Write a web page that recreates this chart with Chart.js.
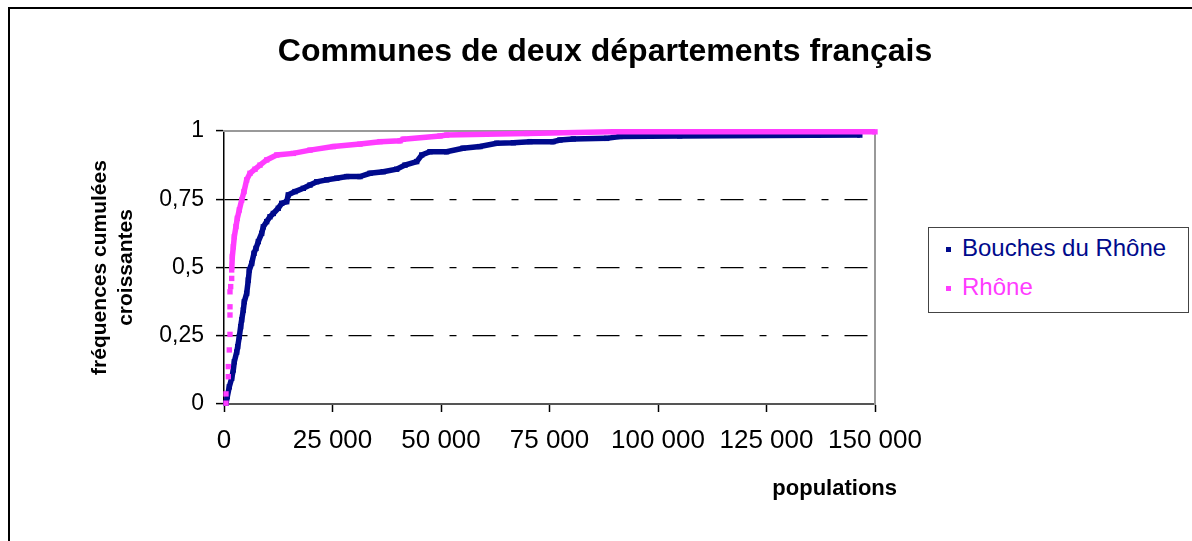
<!DOCTYPE html>
<html>
<head>
<meta charset="utf-8">
<script src="https://cdn.jsdelivr.net/npm/chart.js@4/dist/chart.umd.min.js"></script>
<style>
body { margin: 0; background: #fff; }
#wrap { position: relative; width: 1192px; height: 541px; overflow: hidden; }
#frame { position: absolute; left: 8px; top: 7px; width: 1300px; height: 700px; border-left: 2px solid #000; border-top: 2px solid #000; }
#chart-area { position: absolute; left: 0; top: 0; }
#legend { position: absolute; left: 928px; top: 227px; width: 259px; height: 84px; border: 1px solid #444; font-family: "Liberation Sans", Arial, sans-serif; font-size: 24px; background: #fff; }
#legend .item { position: absolute; left: 0; white-space: nowrap; }
#legend .mark { position: absolute; left: 17px; width: 5px; height: 5px; }
#legend .txt { position: absolute; left: 33px; }
</style>
</head>
<body>
<div id="wrap">
  <div id="frame"></div>
  <canvas id="chart-area" width="1192" height="541"></canvas>
  <div id="legend"></div>
</div>
<script>
// communes des Bouches du Rhône : population / fréquence cumulée
var bdrPop  = [460, 760, 1220, 1770, 2150, 2380, 2920, 3150, 3530, 3840, 4070, 4450, 4680, 5220, 5600, 5840, 6380, 6910, 7370, 7910,
               8680, 9060, 9830, 10600, 11360, 12510, 13290, 14440, 14820, 16360, 18280, 19810, 21360, 23660, 25970, 28270, 31330, 33640, 36700, 39790,
               41700, 44400, 45550, 47460, 51300, 55070, 58980, 62830, 66660, 70500, 75800, 77400, 80480, 88170, 91240, 105000, 146500];
var bdrFreq = [0.003, 0.027, 0.063, 0.094, 0.125, 0.155, 0.19, 0.21, 0.247, 0.283, 0.308, 0.344, 0.375, 0.405, 0.454, 0.491, 0.515, 0.552, 0.570, 0.595,
               0.625, 0.649, 0.668, 0.686, 0.698, 0.717, 0.735, 0.741, 0.766, 0.778, 0.790, 0.802, 0.814, 0.821, 0.827, 0.833, 0.833, 0.845, 0.851, 0.860,
               0.875, 0.888, 0.912, 0.924, 0.924, 0.937, 0.943, 0.955, 0.957, 0.961, 0.961, 0.967, 0.971, 0.973, 0.980, 0.982, 0.985];

// communes du Rhône
var rhonePop  = [460, 460, 1000, 1000, 1220, 1380, 1380, 1380, 1380, 1540, 1770, 1770, 1920, 2150, 2380, 2760, 3070, 3530, 4070, 4610,
                 5220, 5990, 7140, 8290, 9830, 12140, 15970, 19810, 25190, 31330, 35940, 40550, 41310, 49770, 51300, 69740, 89700, 150000];
var rhoneFreq = [0.003, 0.037, 0.100, 0.137, 0.198, 0.255, 0.326, 0.356, 0.411, 0.430, 0.460, 0.491, 0.540, 0.576, 0.613, 0.650, 0.680, 0.711, 0.747, 0.778,
                 0.821, 0.845, 0.860, 0.875, 0.894, 0.912, 0.918, 0.930, 0.943, 0.952, 0.961, 0.964, 0.970, 0.982, 0.985, 0.991, 0.997, 0.997];

var seriesNames = ["Bouches du Rhône", "Rhône"];
var xTicks = [0, 25000, 50000, 75000, 100000, 125000, 150000];
var yTicks = [0, 0.25, 0.5, 0.75, 1];
var xTitle = "populations";

var BLUE = "#000a8c";
var PINK = "#ff3cff";
var FONT = '"Liberation Sans", Arial, sans-serif';

function ToPoints(xs, ys) {
    var pts = [];
    for (var i = 0; i < xs.length; i++) {
        pts.push({x: xs[i], y: ys[i]});
    }
    return pts;
}

function FormatPop(v) {
    return String(v).replace(/\B(?=(\d{3})+(?!\d))/g, " ");
}

function SegmentColor(ctx) {
    var ds = ctx.chart.data.datasets[ctx.datasetIndex];
    var y = ds.data[ctx.p1DataIndex].y;
    if (ds.sparseBelow != undefined && y < ds.sparseBelow) return "rgba(0,0,0,0)";
    return ds.borderColor;
}

// axis title of x, right end a bit past the plot area like in Excel
var xTitlePlugin = {
    id: 'xTitle',
    afterDraw: function(chart) {
        var c = chart.ctx;
        c.save();
        c.font = "bold 22px " + FONT;
        c.fillStyle = "#000";
        c.textAlign = "right";
        c.textBaseline = "middle";
        c.fillText(xTitle, chart.chartArea.right + 22, 489);
        c.restore();
    }
};

Chart.defaults.font.family = FONT;
Chart.defaults.color = "#000";

var config = {
    type: 'scatter',
    data: {
        datasets: [{
            label: seriesNames[0],
            data: ToPoints(bdrPop, bdrFreq),
            borderColor: BLUE,
            backgroundColor: BLUE,
            order: 2
        }, {
            label: seriesNames[1],
            data: ToPoints(rhonePop, rhoneFreq),
            borderColor: PINK,
            backgroundColor: PINK,
            sparseBelow: 0.5,
            order: 1
        }]
    },
    options: {
        responsive: false,
        animation: false,
        clip: false,
        layout: { padding: { left: 18, top: 0, right: 0, bottom: 12 } },
        datasets: {
            scatter: {
                showLine: true,
                borderWidth: 5.5,
                borderJoinStyle: 'miter',
                pointStyle: 'rect',
                pointRadius: 3.8,
                pointBorderWidth: 0,
                pointHoverRadius: 3.8,
                segment: { borderColor: SegmentColor }
            }
        },
        plugins: {
            legend: { display: false },
            tooltip: { enabled: false },
            title: {
                display: true,
                text: "Communes de deux départements français",
                color: "#000",
                font: { family: FONT, size: 32, weight: 'bold' },
                padding: { top: 33, bottom: 59.6 }
            }
        },
        scales: {
            x: {
                type: 'linear',
                position: 'bottom',
                min: 0,
                max: 150000,
                afterBuildTicks: function(scale) {
                    scale.ticks = xTicks.map(function(v) { return {value: v}; });
                },
                afterFit: function(scale) { scale.height = 125; },
                ticks: {
                    font: { size: 26 },
                    padding: 13,
                    maxRotation: 0,
                    callback: function(v) { return FormatPop(v); }
                },
                grid: { drawOnChartArea: false, tickLength: 8, tickColor: "#000", tickWidth: 1.5 },
                border: { color: "#555", width: 2 }
            },
            y: {
                type: 'linear',
                position: 'left',
                min: 0,
                max: 1,
                afterBuildTicks: function(scale) {
                    scale.ticks = yTicks.map(function(v) { return {value: v}; });
                },
                afterFit: function(scale) { scale.width = 206; },
                ticks: {
                    font: { size: 23 },
                    padding: 12,
                    callback: function(v) { return String(v).replace(".", ","); }
                },
                grid: {
                    color: function(ctx) {
                        if (ctx.tick && ctx.tick.value > 0 && ctx.tick.value < 1) return "#000";
                        return "rgba(0,0,0,0)";
                    },
                    lineWidth: 1.2,
                    tickLength: 8,
                    tickColor: "#000",
                    tickWidth: 1.5
                },
                border: { color: "#000", width: 1.5, dash: [23, 16, 7, 16] },
                title: {
                    display: true,
                    text: ["fréquences cumulées", "croissantes"],
                    font: { size: 21, weight: 'bold', lineHeight: 1.25 },
                    padding: { top: 69, bottom: 0 }
                }
            },
            x2: {
                type: 'linear',
                position: 'top',
                min: 0,
                max: 150000,
                afterFit: function(scale) { scale.height = 0; },
                ticks: { display: false },
                grid: { display: false },
                border: { color: "#999", width: 2 }
            },
            y2: {
                type: 'linear',
                position: 'right',
                min: 0,
                max: 1,
                afterFit: function(scale) { scale.width = 317; },
                ticks: { display: false },
                grid: { display: false },
                border: { color: "#999", width: 2 }
            }
        }
    },
    plugins: [xTitlePlugin]
};

function CreateLegend(chart) {
    var box = document.getElementById("legend");
    var tops = [6, 45];
    chart.data.datasets.forEach(function(ds, i) {
        var item = document.createElement("div");
        item.className = "item";
        item.style.top = tops[i] + "px";
        item.innerHTML = '<span class="mark" style="top:13px;background:' + ds.borderColor + '"></span>' +
            '<span class="txt" style="color:' + ds.borderColor + '">' + ds.label + '</span>';
        box.appendChild(item);
    });
}

function CreateGraph() {
    var ctx = document.getElementById("chart-area").getContext("2d");
    window.myChart = new Chart(ctx, config);
    CreateLegend(window.myChart);
}

CreateGraph();
</script>
</body>
</html>
